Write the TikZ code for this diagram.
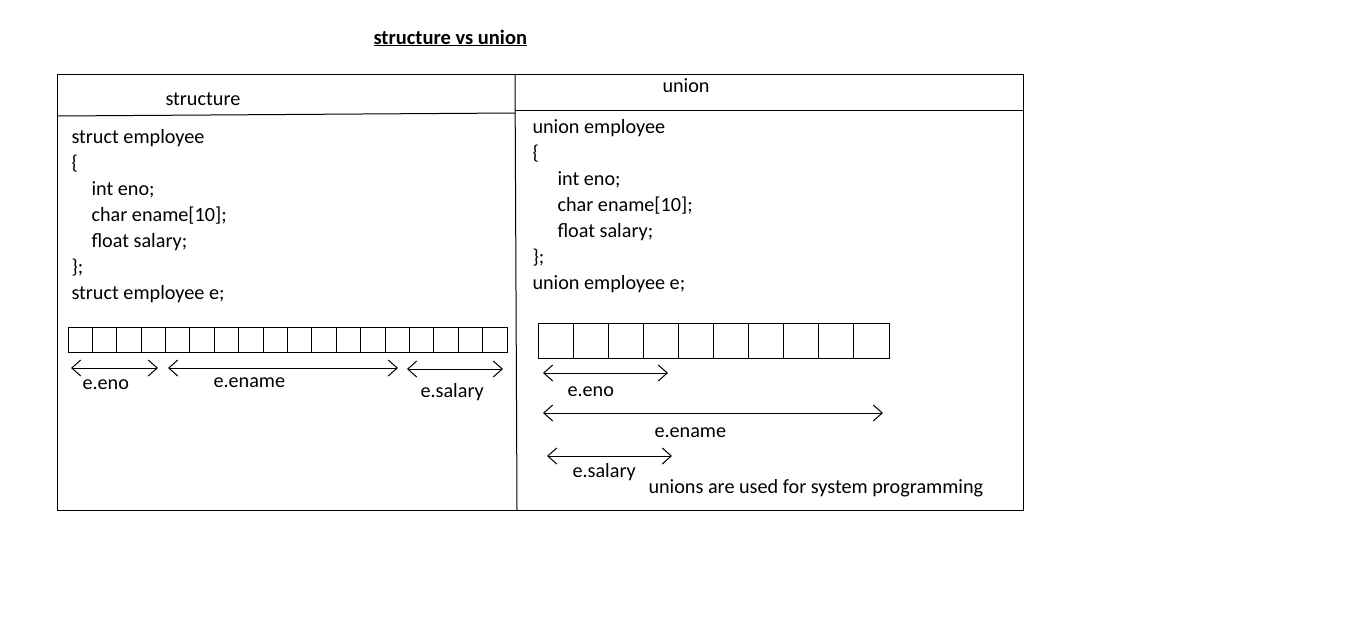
\documentclass[tikz,border=0pt]{standalone}
\usepackage{fontspec}
\setmainfont{Carlito}
\usetikzlibrary{arrows.meta}

\begin{document}
\begin{tikzpicture}[
    x=1pt, y=-1pt,
    line width=1pt,
    every node/.style={font=\fontsize{20.2}{26}\selectfont, inner sep=0pt},
    code/.style={anchor=base west, align=left},
    lbl/.style={anchor=base west},
    mem/.style={draw, anchor=north west, minimum height=#1},
    span/.style={{Straight Barb[length=9pt,width=16pt]}-{Straight Barb[length=9pt,width=16pt]}}
]
\useasboundingbox (0,0) rectangle (1360,624);
\node[lbl, font=\fontsize{20.5}{26}\selectfont\bfseries] (title) at (373,44) {\underline{structure vs union}};
\draw (57,74) rectangle (1023,510);
\draw (515,74) -- (517,510);
\draw (57,116) -- (515,113);
\draw (515,110) -- (1023,110);
\node[lbl] (hstruct) at (165,105) {structure};
\node[lbl] (hunion) at (662,92) {union};
\node[code] (scode) at (71,299) {struct employee\\\{\\\hspace*{20pt}int eno;\\\hspace*{20pt}char ename[10];\\\hspace*{20pt}float salary;\\\};\\struct employee e;};
\node[code] (ucode) at (532,289) {union employee\\\{\\\hspace*{25pt}int eno;\\\hspace*{25pt}char ename[10];\\\hspace*{25pt}float salary;\\\};\\union employee e;};
\node[mem=25pt, minimum width=439pt] (smem) at (68,327) {};
\foreach \i in {1,...,17} \draw (68+\i*24.39,327) -- ++(0,25);
\node[mem=35pt, minimum width=351pt] (umem) at (538,323) {};
\foreach \i in {1,...,9} \draw (538+\i*35.1,323) -- ++(0,35);
\coordinate (seno1) at (71,368);  \coordinate (seno2) at (158,368);
\coordinate (sena1) at (168,368); \coordinate (sena2) at (398,368);
\coordinate (ssal1) at (407,369); \coordinate (ssal2) at (503,369);
\coordinate (ueno1) at (543,373); \coordinate (ueno2) at (668,373);
\coordinate (uena1) at (543,413); \coordinate (uena2) at (883,413);
\coordinate (usal1) at (547,456); \coordinate (usal2) at (672,456);
\draw[span] (seno1) -- (seno2);
\draw[span] (sena1) -- (sena2);
\draw[span] (ssal1) -- (ssal2);
\draw[span] (ueno1) -- (ueno2);
\draw[span] (uena1) -- (uena2);
\draw[span] (usal1) -- (usal2);
\node[lbl] (lseno) at (82,389) {e.eno};
\node[lbl] (lsena) at (213,387) {e.ename};
\node[lbl] (lssal) at (420,397) {e.salary};
\node[lbl] (lueno) at (567,396) {e.eno};
\node[lbl] (luena) at (654,437) {e.ename};
\node[lbl] (lusal) at (572,477) {e.salary};
\node[lbl] (note) at (648,493) {unions are used for system programming};
\end{tikzpicture}
\end{document}
